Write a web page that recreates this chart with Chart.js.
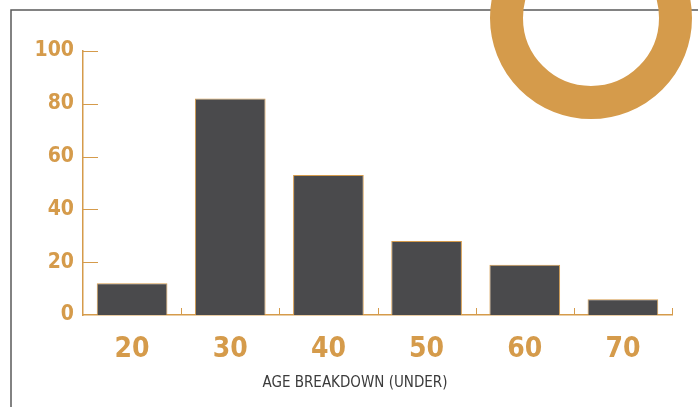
<!DOCTYPE html>
<html lang="en">
<head>
    <meta charset="UTF-8">
    <title>Age Breakdown</title>
    <script src="https://cdn.jsdelivr.net/npm/chart.js"></script>
    <style>
        html, body {
            margin: 0;
            padding: 0;
            background: #fff;
        }
        #wrap {
            width: 698px;
            height: 407px;
            position: relative;
        }
    </style>
</head>
<body>
<div id="wrap"><canvas id="ageChart"></canvas></div>

<script>
    const ageLabels = ['20', '30', '40', '50', '60', '70'];
    const ageValues = [12, 82, 53, 28, 19, 6];
    const yTicks = [0, 20, 40, 60, 80, 100];
    const axisTitle = 'AGE BREAKDOWN (UNDER)';

    const GOLD = '#d59b4b';
    const BAR = '#4a4a4c';
    const FONT = "'Liberation Sans Narrow', 'DejaVu Sans Condensed', sans-serif";

    // frame, ring, axis title and the little inside ticks
    const decor = {
        id: 'decor',
        beforeDraw(chart) {
            const ctx = chart.ctx;
            ctx.save();
            ctx.strokeStyle = '#5a5a5a';
            ctx.lineWidth = 1.5;
            ctx.beginPath();
            ctx.moveTo(11, 407);
            ctx.lineTo(11, 10);
            ctx.lineTo(698, 10);
            ctx.stroke();
            ctx.restore();
        },
        afterDraw(chart) {
            const ctx = chart.ctx;
            const x = chart.scales.x, y = chart.scales.y;
            ctx.save();
            ctx.strokeStyle = GOLD;
            ctx.lineWidth = 1;
            yTicks.forEach(v => {
                if (v === 0) return;
                const py = Math.round(y.getPixelForValue(v)) + 0.5;
                ctx.beginPath();
                ctx.moveTo(x.left, py);
                ctx.lineTo(x.left + 15, py);
                ctx.stroke();
            });
            const half = (x.getPixelForValue(1) - x.getPixelForValue(0)) / 2;
            ageLabels.forEach((l, i) => {
                const px = Math.round(x.getPixelForValue(i) + half) + 0.5;
                ctx.beginPath();
                ctx.moveTo(px, y.bottom);
                ctx.lineTo(px, y.bottom - 7);
                ctx.stroke();
            });
            // axis title, a bit left of centre like the original
            ctx.fillStyle = '#3b3b3b';
            ctx.font = '15px ' + FONT;
            ctx.textAlign = 'center';
            ctx.textBaseline = 'middle';
            ctx.fillText(axisTitle, 355, 383);
            // ring
            ctx.beginPath();
            ctx.arc(591, 18, 84.5, 0, Math.PI * 2);
            ctx.lineWidth = 33;
            ctx.strokeStyle = GOLD;
            ctx.stroke();
            ctx.restore();
        }
    };

    new Chart(document.getElementById('ageChart'), {
        type: 'bar',
        data: {
            labels: ageLabels,
            datasets: [{
                data: ageValues,
                backgroundColor: BAR,
                borderColor: GOLD,
                borderWidth: 1,
                categoryPercentage: 0.72,
                barPercentage: 1
            }]
        },
        options: {
            responsive: true,
            maintainAspectRatio: false,
            animation: false,
            layout: {padding: {top: 51, right: 26, left: 0, bottom: 0}},
            plugins: {legend: {display: false}, tooltip: {enabled: false}},
            scales: {
                x: {
                    afterFit: s => { s.height = 92; },
                    grid: {display: false, drawTicks: false},
                    border: {color: GOLD, width: 1.5},
                    ticks: {
                        color: GOLD,
                        padding: 18,
                        font: {family: FONT, size: 28, weight: 'bold'}
                    }
                },
                y: {
                    min: 0,
                    max: 100,
                    afterFit: s => { s.width = 83; },
                    afterBuildTicks: s => { s.ticks = yTicks.map(v => ({value: v})); },
                    grid: {display: false, drawTicks: false},
                    border: {color: GOLD, width: 1.5},
                    ticks: {
                        color: GOLD,
                        padding: 9,
                        font: {family: FONT, size: 21, weight: 'bold'}
                    }
                }
            }
        },
        plugins: [decor]
    });
</script>
</body>
</html>
